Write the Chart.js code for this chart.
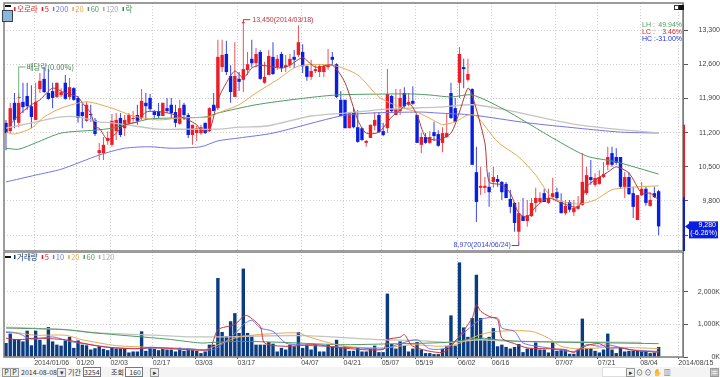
<!DOCTYPE html>
<html>
<head>
<meta charset="utf-8">
<script src="https://cdn.jsdelivr.net/npm/chart.js@4/dist/chart.umd.min.js"></script>
<style>
body { margin: 0; background: #fff; }
#wrap { position: relative; width: 720px; height: 377px; overflow: hidden; font: 7px "Noto Sans CJK KR", sans-serif; color: #333; }
canvas { position: absolute; left: 0; }
#bar { position: absolute; left: 0; top: 367px; width: 720px; height: 10px; background: #f4f4f4; }
#bar span { position: absolute; top: 0; line-height: 11px; white-space: nowrap; }
#bar .box { border: 1px solid #777; background: #fff; height: 8px; line-height: 8px; text-align: right; box-sizing: content-box; padding-right: 1px; }
#bar .btn { border: 1px solid #999; background: #eee; height: 7px; width: 7px; line-height: 7px; top: 1px; text-align: center; }
.ico { position: absolute; }
</style>
</head>
<body>
<div id="wrap">
    <canvas id="price" width="720" height="252" style="top:0"></canvas>
    <canvas id="volume" width="720" height="125" style="top:252px"></canvas>
    <div class="ico" style="left:5px;top:5px;width:6px;height:2px;background:#111"></div>
    <div class="ico" style="left:2px;top:10px;width:9px;height:10px;background:#8fb4dc;border:1px solid #345"></div>
    <div class="ico" style="left:5px;top:256px;width:6px;height:2px;background:#111"></div>
    <div class="ico" style="left:674px;top:5px;width:3px;height:3px;border:1px solid #333"></div>
    <div class="ico" style="left:679px;top:5px;width:3px;height:3px;border:1px solid #111;background:#111"></div>
    <div id="bar">
        <span class="btn" style="left:2px">P</span>
        <span class="btn" style="left:10px">P</span>
        <span style="left:21px">2014-08-08</span>
        <span class="btn" style="left:57px">▾</span>
        <span style="left:68px">기간</span>
        <span class="box" style="left:83px;width:15px">3254</span>
        <span style="left:111px">조회</span>
        <span class="box" style="left:125px;width:15px">160</span>
        <span class="btn" style="left:150px">▸</span>
        <span class="box" style="left:602px;width:22px;border-color:#ddd"></span>
        <span class="btn" style="left:626px">▸</span>
        <span style="left:636px">⊙ ⊙ ✋ ▥</span>
        <span class="btn" style="left:710px">▤</span>
    </div>
</div>
<script>
//index of each candle: 0 ~ 154 (window has room for 160)
var opens = [11400,11230,11810,11400,11830,11950,11740,11460,12090,12300,12010,12050,11930,11970,12220,11930,12110,11910,11620,11440,
    11580,11460,10780,10780,11030,10950,11230,11500,11290,11400,11480,11560,11500,11810,11910,11640,11640,11540,11700,11770,
    11620,11380,11770,11560,11150,11190,11190,11400,11230,11770,11700,12540,12810,12360,11930,12300,12280,12480,12710,12620,
    12850,12220,12380,12750,12540,12810,12540,12580,12750,12790,12850,12560,12340,12460,12440,12440,12540,12750,12600,11870,
    11870,11290,11620,11310,11290,10990,11090,11340,11560,11230,11290,11950,11560,11640,12010,11770,11850,11560,10950,11110,
    10990,11210,11170,10990,11110,12010,11700,12220,12540,12280,12090,10390,10070,10070,10090,10190,10250,10190,10150,9840,
    9760,9170,9490,9390,9490,9760,9780,9960,9760,9880,9980,9780,9550,9780,9570,9640,9720,9960,10290,10130,
    10150,10290,10540,10780,10700,10700,10090,10290,9960,9410,9920,10050,9700,9960,10000];
var highs = [11460,11810,12010,12010,12220,12220,12170,12220,12420,12540,12500,12220,12220,12110,12380,12320,12130,11950,11790,11830,
    11770,11500,10990,11110,11230,11580,11600,11600,11560,11600,11640,11770,12090,12010,11990,11660,11810,11810,11910,11910,
    11770,11870,11810,11600,11360,11340,11360,11400,11720,12010,13100,13100,13080,12580,13050,12440,13450,12850,13100,12930,
    12890,12650,12890,13050,12790,12850,12790,12810,12890,13400,13010,12580,12690,12580,12600,12600,12910,12850,12620,12050,
    11870,11600,11720,11660,11310,11050,11360,11620,11620,11400,12500,11970,12090,12090,12130,12010,12150,11560,11190,11190,
    11230,11420,11250,11310,11580,12220,11910,12950,12710,12710,12110,10910,10500,10290,10390,10500,10330,10210,10190,10030,
    9780,9780,9860,9820,9860,10070,9980,10050,10050,10270,10070,9960,9820,9820,9820,9900,10780,10500,10640,10370,
    10430,10600,10910,10910,10880,10700,10390,10390,10090,9920,10190,10090,9980,10090,10030];
var lows = [10840,11190,11290,11310,11600,11660,11290,11460,12010,12010,11870,11700,11910,11930,11870,11870,11850,11400,11290,11420,
    11420,11130,10640,10640,10950,10910,11050,11110,11130,11360,11420,11360,11460,11460,11640,11500,11500,11540,11600,11500,
    11310,11360,11460,11090,10950,11030,11150,11170,11210,11640,11660,12440,12380,11810,11930,12050,12030,12380,12540,12540,
    12280,12200,12380,12380,12480,12440,12440,12520,12520,12750,12420,12260,12280,12420,12340,12340,12480,12580,11910,11540,
    11290,11290,11290,10990,11030,10910,11090,11250,11190,11130,11190,11600,11560,11560,11700,11740,11770,10990,10780,10970,
    10970,11030,10910,10800,11090,11480,11420,11910,12110,12240,10540,9370,9920,9960,9680,10070,10090,9820,9860,9550,
    9170,8970,9390,9270,9470,9570,9760,9780,9740,9860,9820,9550,9510,9570,9490,9620,9700,9920,10130,10090,
    10130,10270,10430,10500,10540,10050,9860,9920,9450,9410,9900,9700,9680,9860,9100];
var closes = [11190,11700,11460,11810,11720,11740,11520,11830,12260,12030,11890,11910,12220,12030,11890,12130,11870,11500,11540,11770,
    11560,11170,10840,10950,11090,11440,11460,11150,11460,11560,11500,11440,11850,11740,11680,11560,11540,11810,11640,11600,
    11400,11700,11560,11150,11360,11290,11310,11190,11700,11640,12750,12790,12440,12030,12360,12240,12500,12600,12620,12810,
    12300,12340,12770,12400,12710,12520,12580,12710,12690,13050,12560,12340,12460,12500,12560,12560,12580,12690,11930,11540,
    11290,11600,11310,11010,11050,11030,11360,11460,11210,11150,11990,11640,11700,11910,11740,11830,11790,10990,11110,10990,
    11110,11130,10930,11190,11190,11500,11420,12810,12500,12400,10540,9780,10110,10110,9980,10290,10190,9980,9860,9680,
    9350,9550,9390,9510,9760,9860,9860,9780,9860,9960,9860,9550,9700,9620,9660,9700,10190,10330,10230,10270,
    10290,10350,10700,10540,10580,10090,10290,9940,9680,9920,10050,9760,9820,9880,9280];
var volumes = [430,720,550,550,480,810,360,810,530,380,920,480,380,350,510,620,280,510,380,360,
    230,270,330,250,210,280,260,260,250,140,170,170,790,190,300,250,210,260,230,230,
    170,280,190,250,230,190,120,170,380,380,2430,770,640,1100,1350,740,2720,740,660,380,
    380,380,460,410,170,280,230,380,330,770,280,380,230,380,170,170,380,330,530,300,
    330,190,190,280,170,170,260,350,150,150,1950,400,260,480,350,170,260,460,230,120,
    120,90,90,250,330,1280,350,2910,910,620,1200,2530,1200,550,620,890,330,380,310,260,
    310,400,150,260,260,450,230,230,140,450,190,230,210,100,100,230,1180,280,280,190,
    140,230,720,230,120,280,170,190,190,190,170,170,120,140,310];

var ma5At = [1,3,6,8,11,14,17,18,20,21,22,24,26,28,31,33,37,40,43,45,46,48,50,52,54,56,58,60,65,67,70,73,77,80,83,85,88,91,93,95,97,99,102,105,107,109,110,113,114,117,119,121,123,125,128,131,135,137,139,142,144,147,150,152,154];
var ma5 = [11360,11560,11770,11870,12110,12010,11930,11810,11600,11310,11290,11050,11190,11360,11420,11620,11620,11560,11460,11360,11250,11250,11870,12220,12460,12320,12520,12580,12520,12580,12730,12540,12580,12220,11460,11190,11210,11520,11660,11810,11560,11110,11050,11190,11620,12110,11970,10990,10190,10130,9960,9550,9470,9680,9860,9760,9680,10090,10230,10390,10500,10370,9960,9960,9820];
var ma20At = [0,2,6,9,13,19,25,30,36,41,48,50,55,59,64,69,77,83,88,93,97,102,103,106,109,111,116,121,125,129,135,139,143,149,154];
var ma20 = [11210,11170,11290,11520,11700,11830,11700,11540,11460,11500,11520,11600,11770,12010,12280,12560,12580,12380,11930,11720,11620,11400,11360,11420,11560,11540,11010,10700,10330,9860,9740,9820,10030,10090,10110];
var ma60At = [0,3,7,13,21,25,30,34,40,47,50,59,69,78,90,96,100,105,110,117,123,129,137,144,154];
var ma60 = [10880,10860,10990,11190,11250,11290,11400,11480,11500,11520,11600,11770,11890,11970,11990,11990,11970,11930,11970,11700,11400,11090,10720,10600,10350];
var ma120At = [0,6,13,17,22,25,30,36,43,50,55,62,72,80,90,102,110,117,135,154];
var ma120 = [11290,11400,11520,11520,11420,11400,11340,11270,11270,11270,11310,11340,11540,11600,11680,11720,11770,11680,11360,11190];
var ma200At = [0,7,13,22,28,34,39,46,50,55,63,79,86,98,102,110,123,135,145,154];
var ma200 = [10190,10330,10450,10740,10880,10910,10880,10910,11030,11090,11190,11540,11600,11620,11600,11560,11400,11290,11210,11190];

var vol5At = [0,3,7,14,18,23,31,34,43,48,50,54,56,57,60,61,66,73,79,89,90,93,94,96,103,106,110,111,112,114,116,117,120,123,126,132,134,137,140,142,145,149,154];
var vol5 = [580,530,580,530,430,310,250,300,230,250,840,1000,1250,1270,940,430,330,380,280,230,530,610,690,330,140,480,1200,1610,1410,1250,1150,580,410,280,260,230,140,350,410,280,280,190,150];
var vol10At = [0,3,6,11,15,21,26,32,37,43,49,55,56,58,60,63,66,69,75,83,89,93,97,100,104,107,112,116,117,120,122,128,134,137,140,142,147,154];
var vol10 = [760,720,550,620,480,360,280,260,280,260,230,840,1000,1130,890,790,430,380,330,280,250,410,530,250,280,620,1150,1200,890,790,430,280,170,380,330,380,230,170];
var vol20At = [0,3,7,14,18,26,32,38,47,51,55,63,69,71,75,80,89,96,102,106,112,116,124,128,131,135,143,154];
var vol20 = [790,740,670,670,530,350,310,250,230,430,620,720,740,640,480,330,280,380,330,380,690,790,790,580,330,250,300,260];
var vol60At = [0,7,14,21,38,46,49,55,63,79,89,104,112,116,122,154];
var vol60 = [890,870,840,740,550,430,450,480,460,380,400,450,580,530,480,410];
var vol120At = [0,7,14,22,32,43,50,70,89,97,104,112,119,150];
var vol120 = [920,880,840,740,690,620,620,660,530,510,450,530,480,450];

var tickIdx = [7,17,25,35,45,55,70,80,89,97,107,115,130,140,150,159];
var tickDates = ['2014/01/06','01/20','02/03','02/17','03/03','03/17','04/07','04/21','05/07','05/19','06/02','06/16','07/07','07/21','08/04','2014/08/15'];
var priceTicks = [13300,12600,11900,11200,10500,9800,9100];
var volumeTicks = [0,1000,2000];

var lastPrice = 9280, lastRate = '(-6.26%)';
var highIdx = 56, highText = '13,450(2014/03/18)';
var lowIdx = 121, lowText = '8,970(2014/06/24)';
var exIdx = 3, exPrice = 11930, exText = '배당락(0.00%)';
var rangeHigh = 11360, rangeMid = 9880;
var priceLegend = ['오로라','5','200','20','60','120','락'];
var volumeLegend = ['거래량','5','10','20','60','120'];

var RED = '#ee1c25', BLUE = '#0a1ee0';
var C5 = '#b03a3a', C20 = '#e6a850', C60 = '#4f9a63', C120 = '#c4c4c0', C200 = '#7474e6';
var FONT = '"Liberation Sans", sans-serif', KFONT = '"Noto Sans CJK KR", sans-serif';
var XMIN = -0.47, XMAX = 159.75;

function pts(at, vals) {
    return at.map(function (x, i) { return { x: x, y: vals[i] }; });
}
function line(label, at, vals, color, width) {
    return {
        type: 'line', label: label, data: pts(at, vals), borderColor: color, borderWidth: width || 1,
        pointRadius: 0, tension: 0.25, fill: false, order: 0
    };
}
function xScale(labelled) {
    return {
        type: 'linear', min: XMIN, max: XMAX, offset: false,
        afterBuildTicks: function (s) { s.ticks = tickIdx.map(function (i) { return { value: i - 0.35 }; }); },
        afterFit: function (s) {
            s.height = labelled ? 20 : 0;
            s.paddingLeft = s.paddingRight = 0;
        },
        border: { display: false, dash: [1, 2] },
        grid: { offset: false, color: '#cfcfcf', drawTicks: labelled, tickLength: 2, tickColor: '#555', tickBorderDash: [] },
        ticks: {
            display: labelled, autoSkip: false, maxRotation: 0, align: 'start', padding: 0,
            color: '#444', font: { family: FONT, size: 7 },
            callback: function (v, i) { return tickDates[i]; }
        }
    };
}
function yScale(min, max, values, pad, fmt) {
    return {
        position: 'right', min: min, max: max,
        afterBuildTicks: function (s) { s.ticks = values.map(function (v) { return { value: v }; }); },
        afterFit: function (s) {
            s.width = 37;
            s.paddingTop = s.paddingBottom = 0;
        },
        border: { color: '#777', width: 1, dash: [1, 2] },
        grid: { color: '#cfcfcf', tickLength: 5, tickColor: '#555', tickBorderDash: [] },
        ticks: { crossAlign: 'far', padding: pad, color: '#444', font: { family: FONT, size: 7 }, callback: fmt }
    };
}
function drawFrame(ctx, a) {
    ctx.save();
    ctx.strokeStyle = '#7c7c7c';
    ctx.lineWidth = 1.5;
    ctx.strokeRect(a.left, a.top, a.right - a.left, a.bottom - a.top);
    ctx.restore();
}
function drawLegend(ctx, names, colors, y) {
    var x = 14;
    ctx.save();
    ctx.font = '7.5px ' + KFONT;
    ctx.textBaseline = 'middle';
    names.forEach(function (name, i) {
        ctx.fillStyle = colors[i];
        ctx.fillRect(x, y - 2, 1.5, 4);
        ctx.fillText(name, x + 3, y);
        x += 3 + ctx.measureText(name).width + 4;
    });
    ctx.restore();
}

var pricePlugin = {
    id: 'priceMarks',
    afterDraw: function (c) {
        var ctx = c.ctx, a = c.chartArea, xs = c.scales.x, ys = c.scales.y;
        drawFrame(ctx, a);
        drawLegend(ctx, priceLegend, [RED, RED, C200, C20, C60, '#aaa', '#3d8a50'], 9);

        //price range bar on the right edge
        ctx.fillStyle = RED;
        ctx.fillRect(a.right, ys.getPixelForValue(rangeHigh), 2, ys.getPixelForValue(rangeMid) - ys.getPixelForValue(rangeHigh));
        ctx.fillStyle = BLUE;
        ctx.fillRect(a.right, ys.getPixelForValue(rangeMid), 2, a.bottom - ys.getPixelForValue(rangeMid));

        ctx.save();
        ctx.lineWidth = 1;
        ctx.textBaseline = 'middle';
        ctx.font = '7px ' + FONT;

        //high
        var hx = xs.getPixelForValue(highIdx), hy = ys.getPixelForValue(highs[highIdx]);
        ctx.strokeStyle = ctx.fillStyle = '#c8343c';
        ctx.beginPath();
        ctx.moveTo(hx - 1.5, hy); ctx.lineTo(hx + 1.5, hy);
        ctx.moveTo(hx, hy); ctx.lineTo(hx, hy - 3); ctx.lineTo(hx + 7, hy - 3);
        ctx.stroke();
        ctx.fillText(highText, hx + 9, hy - 3);

        //low
        var lx = xs.getPixelForValue(lowIdx), ly = ys.getPixelForValue(lows[lowIdx]);
        ctx.strokeStyle = ctx.fillStyle = '#3c46d8';
        ctx.beginPath();
        ctx.moveTo(lx, ly); ctx.lineTo(lx, ly + 4); ctx.lineTo(lx - 7, ly + 4);
        ctx.stroke();
        ctx.textAlign = 'right';
        ctx.fillText(lowText, lx - 8, ly + 4);
        ctx.textAlign = 'left';

        //ex-dividend
        var ex = xs.getPixelForValue(exIdx), ey = ys.getPixelForValue(exPrice);
        ctx.strokeStyle = '#6fb07c';
        ctx.fillStyle = '#3f7d4e';
        ctx.beginPath();
        ctx.moveTo(ex, ey); ctx.lineTo(ex, ey - 30); ctx.lineTo(ex + 7, ey - 30);
        ctx.stroke();
        ctx.fillRect(ex - 1, ey, 3, 1);
        ctx.font = '7.5px ' + KFONT;
        ctx.fillText(exText, ex + 8, ey - 30);

        //LH LC HC
        ctx.font = '7px ' + FONT;
        [['LH :', '49.94%', '#4f9a63', 25], ['LC :', '3.46%', '#e0202a', 32], ['HC :', '-31.00%', '#2030e0', 39]].forEach(function (r) {
            ctx.fillStyle = r[2];
            ctx.textAlign = 'left';
            ctx.fillText(r[0], 642, r[3]);
            ctx.textAlign = 'right';
            ctx.fillText(r[1], 682, r[3]);
        });

        //current price tag
        var py = ys.getPixelForValue(lastPrice);
        ctx.fillStyle = BLUE;
        ctx.beginPath();
        ctx.moveTo(685, py); ctx.lineTo(689, py - 3); ctx.lineTo(689, py + 3);
        ctx.fill();
        ctx.fillRect(689, py - 5, 29, 17);
        ctx.fillStyle = '#fff';
        ctx.textAlign = 'right';
        ctx.fillText(lastPrice.toLocaleString(), 716, py - 1);
        ctx.fillText(lastRate, 717, py + 7);
        ctx.restore();
    }
};
var volumePlugin = {
    id: 'volumeMarks',
    afterDraw: function (c) {
        drawFrame(c.ctx, c.chartArea);
        drawLegend(c.ctx, volumeLegend, ['#123f80', RED, C200, C20, C60, '#aaa'], 5);
    }
};

new Chart(document.getElementById('price'), {
    data: {
        datasets: [
            line('MA5', ma5At, ma5, C5),
            line('MA20', ma20At, ma20, C20),
            line('MA60', ma60At, ma60, C60),
            line('MA120', ma120At, ma120, C120, 1.3),
            line('MA200', ma200At, ma200, C200),
            {
                type: 'bar', label: '오로라', order: 1, barThickness: 3.4, grouped: false, inflateAmount: 0,
                data: opens.map(function (o, i) { return { x: i, y: [o, closes[i]] }; }),
                backgroundColor: opens.map(function (o, i) { return closes[i] >= o ? RED : BLUE; })
            },
            {
                type: 'bar', label: 'wick', order: 2, barThickness: 1, grouped: false, inflateAmount: 0,
                data: opens.map(function (o, i) { return { x: i, y: [lows[i], highs[i]] }; }),
                backgroundColor: opens.map(function (o, i) { return closes[i] >= o ? '#e8505a' : '#3a48e6'; })
            }
        ]
    },
    options: {
        responsive: false, animation: false,
        layout: { padding: { left: 4, top: 3, right: 0, bottom: 1 } },
        plugins: { legend: { display: false }, tooltip: { enabled: false } },
        scales: {
            x: xScale(false),
            y: yScale(8776, 13853, priceTicks, 7, function (v) { return v === 9100 ? '' : v.toLocaleString(); })
        }
    },
    plugins: [pricePlugin]
});

new Chart(document.getElementById('volume'), {
    data: {
        datasets: [
            line('5', vol5At, vol5, '#c8343c'),
            line('10', vol10At, vol10, C200),
            line('20', vol20At, vol20, C20),
            line('60', vol60At, vol60, C60),
            line('120', vol120At, vol120, C120, 1.3),
            {
                type: 'bar', label: '거래량', order: 1, barThickness: 3.4, inflateAmount: 0,
                data: volumes.map(function (v, i) { return { x: i, y: v }; }),
                backgroundColor: '#0c3c80'
            }
        ]
    },
    options: {
        responsive: false, animation: false,
        layout: { padding: { left: 4, top: 0, right: 0, bottom: 0 } },
        plugins: { legend: { display: false }, tooltip: { enabled: false } },
        scales: {
            x: xScale(true),
            y: yScale(0, 3230, volumeTicks, 5, function (v) { return v === 0 ? '0K' : v.toLocaleString() + 'K'; })
        }
    },
    plugins: [volumePlugin]
});
</script>
</body>
</html>
